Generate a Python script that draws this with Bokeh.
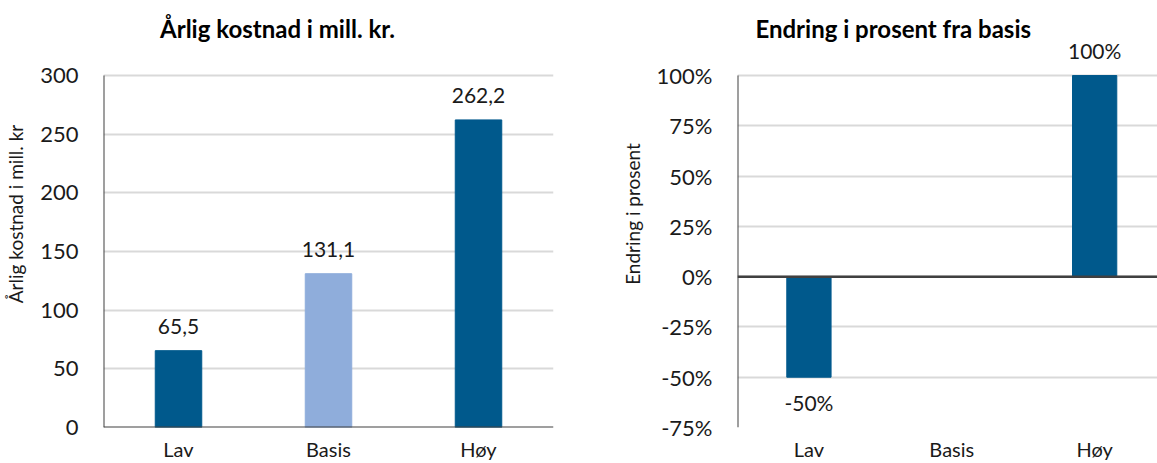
from bokeh.plotting import figure
from bokeh.models import (Range1d, FixedTicker, PrintfTickFormatter, LabelSet, Label,
                          Span, ColumnDataSource)
from bokeh.core.properties import value
from bokeh.layouts import row
from bokeh.embed import file_html
from bokeh.resources import INLINE

# ---- data ---------------------------------------------------------------
categories = ["Lav", "Basis", "Høy"]
cost_mnok = [65.5, 131.1, 262.2]          # annual cost, million NOK
change_pct = [-50, 0, 100]                # change from the base case, %
cost_ticks = [0, 50, 100, 150, 200, 250, 300]
pct_ticks = [-75, -50, -25, 0, 25, 50, 75, 100]
bar_colors = ["#00598C", "#8FADDB", "#00598C"]

# ---- style --------------------------------------------------------------
FONT = "Lato"
DARK = "#404040"
GRID = "#D9D9D9"
TEXT = "#1a1a1a"

xpos = [i + 0.5 for i in range(len(categories))]
cat_labels = {x: c for x, c in zip(xpos, categories)}

# headroom above the top tick (in data units) so titles and value labels
# sit inside the drawing area
COST_HEAD = 64
PCT_HEAD = 37.3


def style(p, yticks, ylabel):
    p.outline_line_color = None
    p.background_fill_color = "white"
    p.border_fill_color = "white"
    p.xgrid.grid_line_color = None
    p.ygrid.grid_line_color = GRID
    p.ygrid.grid_line_width = 2
    p.ygrid.ticker = FixedTicker(ticks=yticks)

    xa = p.xaxis[0]
    xa.ticker = FixedTicker(ticks=xpos)
    xa.major_label_overrides = cat_labels
    xa.major_tick_line_color = None
    xa.minor_tick_line_color = None
    xa.major_label_standoff = 3
    xa.major_label_text_font = FONT
    xa.major_label_text_font_size = "20px"
    xa.major_label_text_color = TEXT

    ya = p.yaxis[0]
    ya.ticker = FixedTicker(ticks=yticks)
    ya.major_tick_line_color = None
    ya.minor_tick_line_color = None
    ya.axis_line_color = None
    ya.major_label_standoff = 19
    ya.major_label_text_font = FONT
    ya.major_label_text_font_size = "22px"
    ya.major_label_text_color = TEXT
    ya.axis_label = ylabel
    ya.axis_label_text_font = FONT
    ya.axis_label_text_font_size = "19px"
    ya.axis_label_text_font_style = "normal"
    ya.axis_label_text_color = TEXT
    ya.axis_label_standoff = 10

    # vertical axis line only over the tick span
    p.segment(x0=[0], x1=[0], y0=[yticks[0]], y1=[yticks[-1]],
              line_color=DARK, line_width=2)


def label_style():
    return dict(text_font=value(FONT), text_font_size=value("21px"),
                text_color=TEXT, text_align="center", text_baseline="middle")


def title_style():
    return dict(text_align="center", text_baseline="middle",
                text_font=FONT, text_font_size="24px",
                text_font_style="bold", text_color="black")


# ---- left panel: annual cost ------------------------------------------------
left = figure(width=580, height=463, x_range=Range1d(0, 3),
              y_range=Range1d(cost_ticks[0], cost_ticks[-1] + COST_HEAD),
              output_backend="svg", toolbar_location=None,
              min_border_left=103, min_border_right=27,
              min_border_top=0, min_border_bottom=36)
style(left, cost_ticks, "Årlig kostnad i mill. kr")
left.ygrid.ticker = FixedTicker(ticks=cost_ticks[1:])
left.xaxis[0].axis_line_color = None

src_l = ColumnDataSource(dict(
    x=xpos, top=cost_mnok, color=bar_colors,
    label=[f"{v:.1f}".replace(".", ",") for v in cost_mnok],
))
left.vbar(x="x", top="top", bottom=0, width=0.31, color="color", source=src_l)
left.add_layout(Span(location=0, dimension="width", line_color=DARK, line_width=2))
left.add_layout(LabelSet(x="x", y="top", text="label", source=src_l,
                         y_offset=24, **label_style()))
left.add_layout(Label(x=1.16, y=340, text="Årlig kostnad i mill. kr.", **title_style()))

# ---- right panel: change from base case ---------------------------------------
right = figure(width=577, height=463, x_range=Range1d(0, 2.94),
               y_range=Range1d(pct_ticks[0], pct_ticks[-1] + PCT_HEAD),
               output_backend="svg", toolbar_location=None,
               min_border_left=157, min_border_right=0,
               min_border_top=0, min_border_bottom=36)
style(right, pct_ticks, "Endring i prosent")
right.xaxis[0].axis_line_color = None
right.yaxis[0].formatter = PrintfTickFormatter(format="%d%%")

src_r = ColumnDataSource(dict(x=xpos, top=change_pct, color=[bar_colors[0]] * 3))
right.vbar(x="x", top="top", bottom=0, width=0.31, color="color", source=src_r)

shown = [i for i, v in enumerate(change_pct) if v != 0]
src_rl = ColumnDataSource(dict(
    x=[xpos[i] for i in shown],
    y=[change_pct[i] for i in shown],
    label=[f"{change_pct[i]:.0f}%" for i in shown],
    off=[25 if change_pct[i] > 0 else -25 for i in shown],
))
right.add_layout(Span(location=0, dimension="width", line_color=DARK, line_width=2.5))
right.add_layout(LabelSet(x="x", y="y", text="label", source=src_rl,
                          y_offset="off", **label_style()))
right.add_layout(Label(x=1.09, y=123.4, text="Endring i prosent fra basis", **title_style()))

layout = row(left, right)
open("out.html", "w").write(file_html(layout, INLINE))
